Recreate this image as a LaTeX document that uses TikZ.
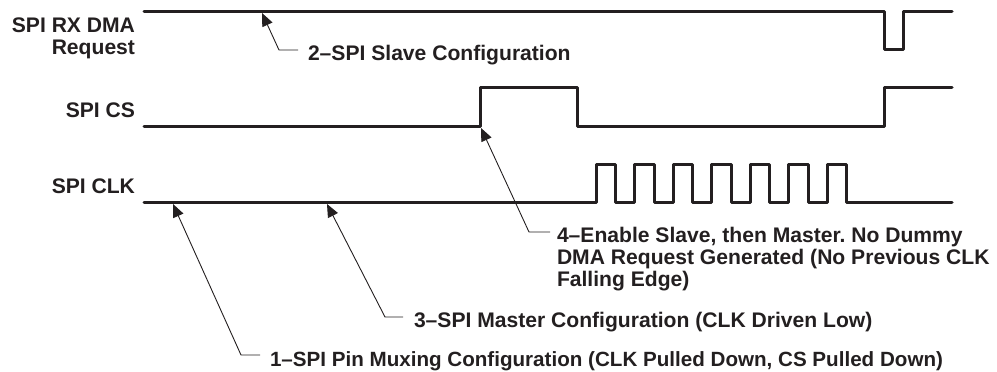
\documentclass[tikz,border=0pt]{standalone}
\usepackage{fontspec}
\setmainfont{Liberation Sans}
\usetikzlibrary{arrows.meta}
\definecolor{ink}{HTML}{231F20}
\frenchspacing
\tikzset{
  every node/.style={inner sep=0pt,outer sep=0pt,text=ink,font=\fontsize{21.1}{22}\selectfont\bfseries},
  lbl/.style={anchor=base east,align=right},
  note/.style={anchor=base west,align=left},
  wave/.style={draw=ink,line width=3pt,line join=round,line cap=round},
  callout/.style={draw=ink,line width=0.9pt,arrows={-Triangle[length=13pt,width=11pt]}}
}
\begin{document}
\begin{tikzpicture}[x=1pt,y=-1pt]
\useasboundingbox (0,0) rectangle (997,372);
% signal labels
\node[lbl] (ldma) at (135,54.5) {SPI RX DMA\\Request};
\node[lbl] (lcs) at (135,117.5) {SPI CS};
\node[lbl] (lclk) at (135,193.5) {SPI CLK};
% waveforms
\draw[wave] (144,11) -- (884,11) -- (884,49) -- (903,49) -- (903,11) -- (952,11);
\draw[wave] (144,126) -- (480,126) -- (480,87) -- (577,87) -- (577,126) -- (884,126) -- (884,87) -- (952,87);
\draw[wave] (144,202) foreach \r in {596,634.5,673,711.5,750,788.5,827} { -- (\r,202) -- (\r,164) -- ({\r+19.5},164) -- ({\r+19.5},202) } -- (952,202);
% callout targets
\coordinate (p1) at (173,204);
\coordinate (p2) at (262,13);
\coordinate (p3) at (327,204);
\coordinate (p4) at (481,128);
% notes
\node[note] (n2) at (308,60.5) {2–SPI Slave Configuration};
\node[note] (n4) at (557,286.5) {4–Enable Slave, then Master. No Dummy\\DMA Request Generated (No Previous CLK\\Falling Edge)};
\node[note] (n3) at (414,327.5) {3–SPI Master Configuration (CLK Driven Low)};
\node[note,font=\fontsize{20.6}{22}\selectfont\bfseries] (n1) at (270,366.5) {1–SPI Pin Muxing Configuration (CLK Pulled Down, CS Pulled Down)};
% callout knees
\coordinate (k2) at (279,50);
\coordinate (k4) at (529,232);
\coordinate (k3) at (385,317);
\coordinate (k1) at (241,355);
% callouts
\draw[callout] (k2 -| n2.west) ++(-10,0) -- (k2) -- (p2);
\draw[callout] (k4 -| n4.west) ++(-7,0) -- (k4) -- (p4);
\draw[callout] (k3 -| n3.west) ++(-11,0) -- (k3) -- (p3);
\draw[callout] (k1 -| n1.west) ++(-10,0) -- (k1) -- (p1);
\end{tikzpicture}
\end{document}
